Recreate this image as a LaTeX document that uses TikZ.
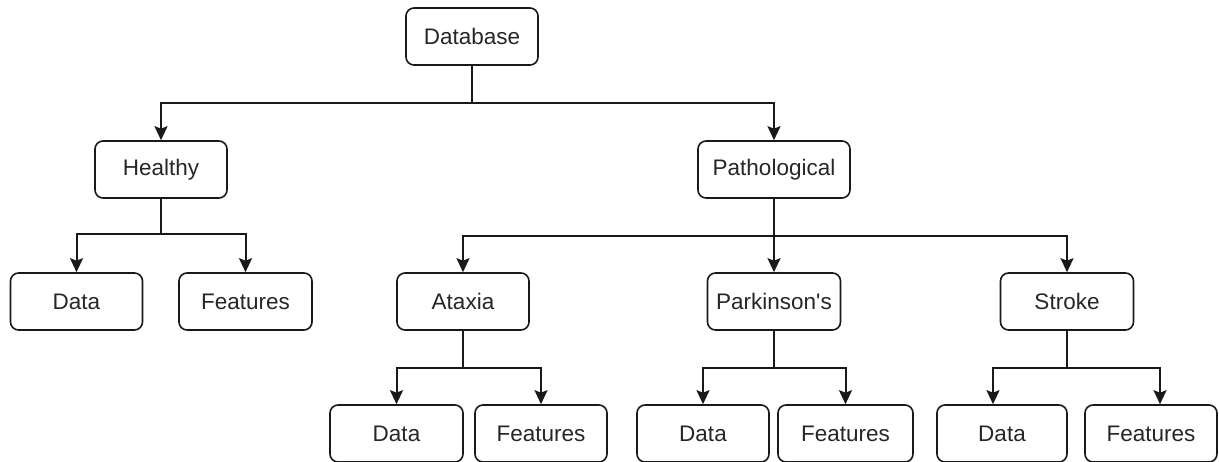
\documentclass[tikz,border=0pt]{standalone}
\usepackage{fontspec}
\setmainfont{Liberation Sans}[Ligatures=TeXOff]
\usetikzlibrary{arrows.meta,calc}
\begin{document}
\begin{tikzpicture}[x=1pt,y=-1pt,
  box/.style={draw=black!90, line width=1.6pt, rounded corners=8pt,
    minimum height=57pt, minimum width=132pt, inner sep=0pt,
    font=\fontsize{22.5}{26}\selectfont, text=black!85},
  link/.style={draw=black!90, line width=2pt},
  arr/.style={link, -{Stealth[length=14pt,width=13pt,inset=2.5pt]}}]
\useasboundingbox (0,0) rectangle (1219,461);

% root
\node[box] (db) at (472,36.5) {Database};

% first level
\node[box] (healthy) at (161,169.5) {Healthy};
\node[box, minimum width=152pt] (patho) at (774,169.5) {Pathological};

% second level
\node[box] (hdata) at (76.5,301.5) {Data};
\node[box, minimum width=133pt] (hfeat) at (245.5,301.5) {Features};
\node[box] (ataxia) at (463,301.5) {Ataxia};
\node[box, minimum width=133pt] (park) at (774,301.5) {Parkinson's};
\node[box, minimum width=133pt] (stroke) at (1067,301.5) {Stroke};

% third level
\node[box, minimum width=133pt] (adata) at (396.5,433.5) {Data};
\node[box] (afeat) at (541,433.5) {Features};
\node[box] (pdata) at (703,433.5) {Data};
\node[box, minimum width=135pt] (pfeat) at (845.5,433.5) {Features};
\node[box, minimum width=130pt] (sdata) at (1002,433.5) {Data};
\node[box] (sfeat) at (1151,433.5) {Features};

% root connectors
\draw[link] (db.south) -- ++(0,37) coordinate (dbj);
\draw[arr] (dbj) -| (healthy.north);
\draw[arr] (dbj) -| (patho.north);

% healthy branch
\draw[link] (healthy.south) -- ++(0,35) coordinate (hj);
\draw[arr] (hj) -| (hdata.north);
\draw[arr] (hj) -| (hfeat.north);

% pathological branch
\draw[link] (patho.south) -- ++(0,37) coordinate (pj);
\draw[arr] (pj) -| (ataxia.north);
\draw[arr] (pj) -- (park.north);
\draw[arr] (pj) -| (stroke.north);

% ataxia
\draw[link] (ataxia.south) -- ++(0,37) coordinate (aj);
\draw[arr] (aj) -| (adata.north);
\draw[arr] (aj) -| (afeat.north);

% parkinson's
\draw[link] (park.south) -- ++(0,37) coordinate (kj);
\draw[arr] (kj) -| (pdata.north);
\draw[arr] (kj) -| (pfeat.north);

% stroke
\draw[link] (stroke.south) -- ++(0,37) coordinate (sj);
\draw[arr] (sj) -| ([xshift=-9pt]sdata.north);
\draw[arr] (sj) -| ([xshift=9pt]sfeat.north);
\end{tikzpicture}
\end{document}
